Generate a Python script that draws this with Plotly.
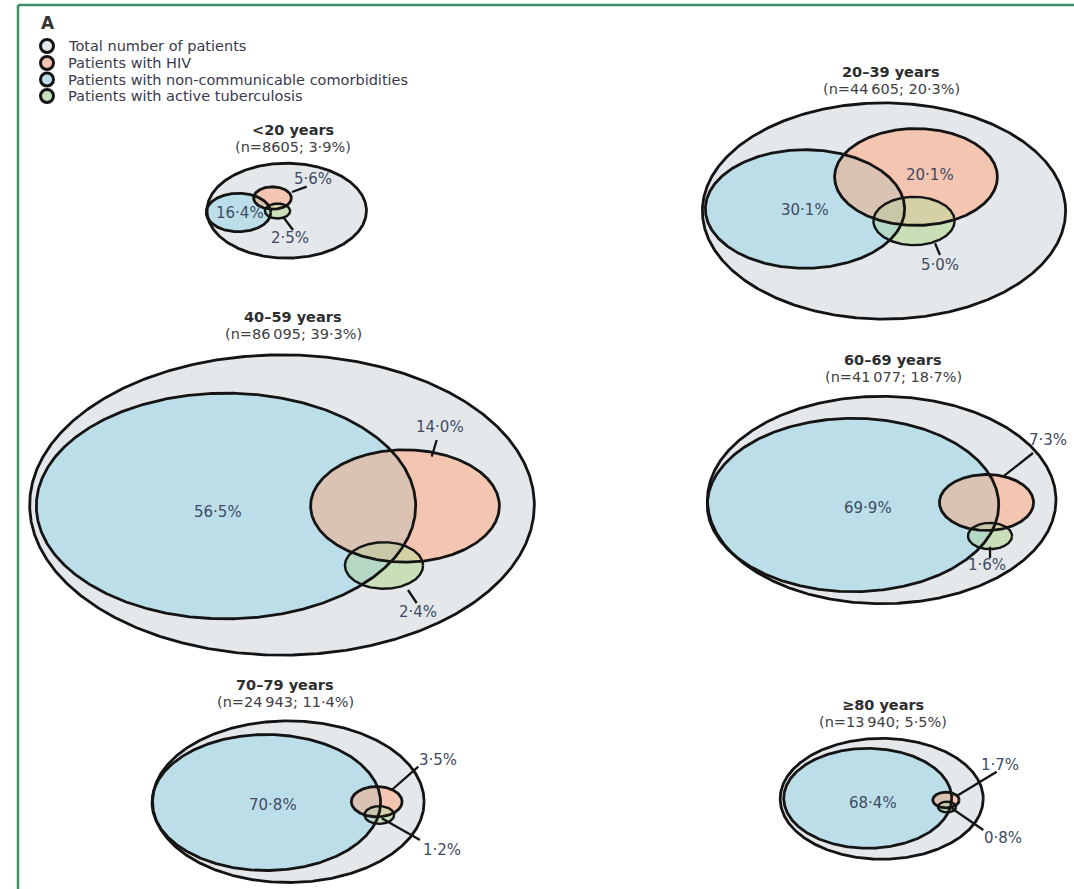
import numpy as np
import plotly.graph_objects as go

# ---------------- data ----------------
age_groups = ["<20 years", "20–39 years", "40–59 years", "60–69 years", "70–79 years", "≥80 years"]
patients_n = [8605, 44605, 86095, 41077, 24943, 13940]
share_pct = [3.9, 20.3, 39.3, 18.7, 11.4, 5.5]
ncd_pct = [16.4, 30.1, 56.5, 69.9, 70.8, 68.4]
hiv_pct = [5.6, 20.1, 14.0, 7.3, 3.5, 1.7]
tb_pct = [2.5, 5.0, 2.4, 1.6, 1.2, 0.8]

legend_labels = [
    "Total number of patients",
    "Patients with HIV",
    "Patients with non-communicable comorbidities",
    "Patients with active tuberculosis",
]

# ---------------- layout constants ----------------
W, H = 1074, 889
ASPECT = 0.595          # vertical squash of the drawing (y pixels per x pixel)
PX_PER_ROOT = 0.86      # horizontal pixels per sqrt(patient)

FONT = "DejaVu Sans"
TXT = "#3f4b63"
TITLE_C = "#2e2e2e"
EDGE = "#141414"

COL_TOTAL = "#e4e8eb"
COL_NCD = "#bcdee9"
COL_HIV = "#f4c6b1"
COL_HIV_NCD = "#dbc3b3"
COL_TB = "#c9dfb8"
COL_TB_NCD = "#b4d8c4"
COL_TB_HIV = "#d5d0a6"
COL_TB_ALL = "#c8c8a8"

# panel placement (pixel positions of circle centres, texts and leader lines)
panels = [
    dict(outer=(286.7, 210.7), ncd=(238.5, 212.5), hiv=(272.5, 198), tb=(277.5, 211),
         title=(293, 130), ncd_lab=(240, 213), hiv_lab=(313, 179), tb_lab=(290, 238),
         hiv_lead=((306.7, 186.7), (292, 192)), tb_lead=((283, 216.7), (293, 230))),
    dict(outer=(884, 211), ncd=(805, 209), hiv=(916, 177), tb=(914, 221),
         title=(891, 72), ncd_lab=(805, 210), hiv_lab=(930, 175), tb_lab=(940, 265),
         hiv_lead=None, tb_lead=((935, 243.3), (940, 255))),
    dict(outer=(282, 505), ncd=(226, 506), hiv=(405, 506), tb=(384, 565.5),
         title=(293, 317), ncd_lab=(218, 512), hiv_lab=(440, 427), tb_lab=(418, 612),
         hiv_lead=((436.7, 440), (431.7, 456.7)), tb_lead=((408, 590), (416.7, 603))),
    dict(outer=(881.7, 500), ncd=(853, 505), hiv=(986.5, 502.5), tb=(990, 536),
         title=(893, 360), ncd_lab=(868, 508), hiv_lab=(1048, 440), tb_lab=(987, 565),
         hiv_lead=((1033, 453), (1003, 476.7)), tb_lead=((990, 546.7), (990, 558))),
    dict(outer=(288.3, 801.7), ncd=(266.3, 802.5), hiv=(376.7, 801.7), tb=(379.3, 815),
         title=(285, 685), ncd_lab=(273, 805), hiv_lab=(438, 760), tb_lab=(441.7, 850),
         hiv_lead=((418.3, 766.7), (391.7, 790)), tb_lead=((381.7, 818.3), (420, 840))),
    dict(outer=(881.7, 798.8), ncd=(867.7, 798.3), hiv=(946, 800), tb=(947, 807),
         title=(883, 705), ncd_lab=(873, 803), hiv_lab=(1000, 765), tb_lab=(1003, 838),
         hiv_lead=((996.7, 771.7), (956.7, 796)), tb_lead=((951.7, 808.3), (983.3, 830))),
]


def yd(py):
    """pixel row -> y data value (y axis is squashed by ASPECT)"""
    return py / ASPECT


def fmt_num(v):
    s = f"{v:,}"
    return s.replace(",", "\u2009") if v >= 10000 else s.replace(",", "")


def fmt_pct(v):
    return f"{v:.1f}".replace(".", "·") + "%"


def circle(c, r, n=720):
    t = np.linspace(0, 2 * np.pi, n, endpoint=False)
    return c[0] + r * np.cos(t), c[1] + r * np.sin(t)


def inside(x, y, circ):
    (cx, cy), r = circ
    return (x - cx) ** 2 + (y - cy) ** 2 <= r * r * (1 + 1e-9)


def intersection(circs):
    xs, ys = [], []
    for i, (c, r) in enumerate(circs):
        x, y = circle(c, r)
        keep = np.ones_like(x, dtype=bool)
        for j, other in enumerate(circs):
            if j != i:
                keep &= inside(x, y, other)
        xs.append(x[keep])
        ys.append(y[keep])
    x = np.concatenate(xs)
    y = np.concatenate(ys)
    if len(x) < 3:
        return None
    mx, my = x.mean(), y.mean()
    order = np.argsort(np.arctan2(y - my, x - mx))
    x, y = x[order], y[order]
    return np.append(x, x[0]), np.append(y, y[0])


fig = go.Figure()


def add_fill(xy, color):
    if xy is None:
        return
    x, y = xy
    fig.add_trace(go.Scatter(x=x, y=y, mode="lines", fill="toself", fillcolor=color,
                             line=dict(width=0, color=color), hoverinfo="skip",
                             showlegend=False))


def add_outline(c, r, width=2.8):
    x, y = circle(c, r)
    fig.add_trace(go.Scatter(x=np.append(x, x[0]), y=np.append(y, y[0]), mode="lines",
                             line=dict(color=EDGE, width=width), hoverinfo="skip",
                             showlegend=False))


annotations = []
shapes = []

for i, p in enumerate(panels):
    r_tot = PX_PER_ROOT * np.sqrt(patients_n[i])
    r_ncd = r_tot * np.sqrt(ncd_pct[i] / 100)
    r_hiv = r_tot * np.sqrt(hiv_pct[i] / 100)
    r_tb = r_tot * np.sqrt(tb_pct[i] / 100)

    to_d = lambda pt: (pt[0], yd(pt[1]))
    c_tot, c_ncd, c_hiv, c_tb = to_d(p["outer"]), to_d(p["ncd"]), to_d(p["hiv"]), to_d(p["tb"])
    C_tot, C_ncd, C_hiv, C_tb = (c_tot, r_tot), (c_ncd, r_ncd), (c_hiv, r_hiv), (c_tb, r_tb)

    add_fill(circle(*C_tot), COL_TOTAL)
    add_fill(circle(*C_ncd), COL_NCD)
    add_fill(circle(*C_hiv), COL_HIV)
    add_fill(intersection([C_hiv, C_ncd]), COL_HIV_NCD)
    add_fill(circle(*C_tb), COL_TB)
    add_fill(intersection([C_tb, C_ncd]), COL_TB_NCD)
    add_fill(intersection([C_tb, C_hiv]), COL_TB_HIV)
    add_fill(intersection([C_tb, C_hiv, C_ncd]), COL_TB_ALL)

    add_outline(*C_tot)
    add_outline(*C_ncd)
    add_outline(*C_hiv)
    add_outline(*C_tb, width=2.4)

    # titles
    tx, ty = p["title"]
    annotations.append(dict(x=tx, y=yd(ty), text=f"<b>{age_groups[i]}</b>",
                            font=dict(family=FONT, size=14.5, color=TITLE_C)))
    annotations.append(dict(x=tx, y=yd(ty + 16.5),
                            text=f"(n={fmt_num(patients_n[i])}; {fmt_pct(share_pct[i])})",
                            font=dict(family=FONT, size=14.5, color="#404040")))

    # value labels
    for key, val in (("ncd_lab", ncd_pct[i]), ("hiv_lab", hiv_pct[i]), ("tb_lab", tb_pct[i])):
        lx, ly = p[key]
        annotations.append(dict(x=lx, y=yd(ly), text=fmt_pct(val),
                                font=dict(family=FONT, size=15, color=TXT)))
    for key in ("hiv_lead", "tb_lead"):
        seg = p[key]
        if seg:
            (x0, y0), (x1, y1) = seg
            shapes.append(dict(type="line", xref="x", yref="y", x0=x0, y0=yd(y0),
                               x1=x1, y1=yd(y1), line=dict(color=EDGE, width=2.3)))

# legend
legend_colors = [COL_TOTAL, COL_HIV, COL_NCD, COL_TB]
legend_rows = [46, 63, 79.5, 96]
fig.add_trace(go.Scatter(
    x=[47] * 4, y=[yd(v) for v in legend_rows], mode="markers",
    marker=dict(size=13, color=legend_colors, line=dict(color=EDGE, width=3)),
    hoverinfo="skip", showlegend=False))
for lab, row in zip(legend_labels, legend_rows):
    annotations.append(dict(x=66, y=yd(row), text=lab, xanchor="left",
                            font=dict(family=FONT, size=14.5, color="#3a3a4c")))

annotations.append(dict(x=39, y=yd(23), text="<b>A</b>", xanchor="left",
                        font=dict(family=FONT, size=17, color="#333333")))

for a in annotations:
    a.setdefault("xref", "x")
    a.setdefault("yref", "y")
    a.setdefault("showarrow", False)
    a.setdefault("xanchor", "center")
    a["yanchor"] = "middle"

# panel frame (green rule at the top and left)
frame = dict(color="#3f8f66", width=2.5)
shapes.append(dict(type="line", xref="x", yref="y", x0=18, y0=yd(5), x1=W, y1=yd(5), line=frame))
shapes.append(dict(type="line", xref="x", yref="y", x0=18, y0=yd(5), x1=18, y1=yd(H), line=frame))

fig.update_layout(
    width=W, height=H,
    margin=dict(l=0, r=0, t=0, b=0),
    paper_bgcolor="white", plot_bgcolor="white",
    xaxis=dict(range=[0, W], visible=False, fixedrange=True),
    yaxis=dict(range=[yd(H), 0], visible=False, fixedrange=True),
    annotations=annotations,
    shapes=shapes,
    showlegend=False,
)

fig.write_html("out.html")
